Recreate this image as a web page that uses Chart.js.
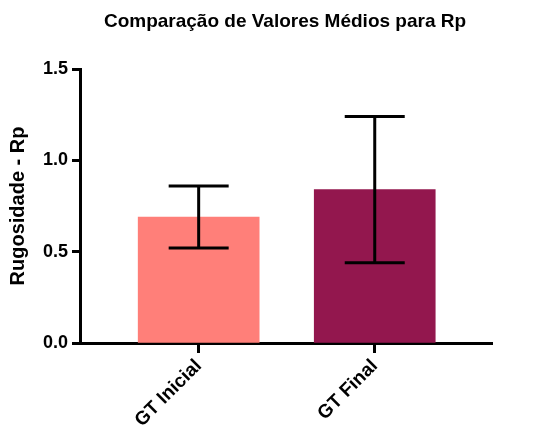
<!DOCTYPE html>
<html>
<head>
<meta charset="utf-8">
<script src="https://cdn.jsdelivr.net/npm/chart.js@4/dist/chart.umd.min.js"></script>
<style>
  html, body { margin: 0; padding: 0; background: #fff; }
  #wrap { width: 544px; height: 430px; position: relative; }
</style>
</head>
<body>
<div id="wrap"><canvas id="c" width="544" height="430"></canvas></div>
<script>
// Grupos comparados e valores médios de Rp (com desvio padrão)
const categories = ['GT Inicial', 'GT Final'];
const means = [0.69, 0.84];
const deviations = [0.17, 0.40];
const yTicks = [0.0, 0.5, 1.0, 1.5];
const barColors = ['#FF7F79', '#93174E'];
const chartTitle = 'Comparação de Valores Médios para Rp';

const FONT = '"Liberation Sans", Arial, Helvetica, sans-serif';

// Título centrado sobre a área do gráfico
const titleText = {
  id: 'titleText',
  afterDraw(chart) {
    const { ctx } = chart;
    ctx.save();
    ctx.fillStyle = '#000';
    ctx.font = 'bold 19px ' + FONT;
    ctx.textAlign = 'center';
    ctx.textBaseline = 'middle';
    ctx.fillText(chartTitle, 285, 22);
    ctx.restore();
  }
};

// Barras de erro (média ± DP) desenhadas com as escalas do gráfico
const errorBars = {
  id: 'errorBars',
  afterDatasetsDraw(chart) {
    const { ctx, scales: { x, y } } = chart;
    ctx.save();
    ctx.strokeStyle = '#000';
    ctx.lineWidth = 3;
    ctx.lineCap = 'butt';
    const half = 30;
    means.forEach((m, i) => {
      const px = x.getPixelForValue(i);
      const top = y.getPixelForValue(m + deviations[i]);
      const bot = y.getPixelForValue(m - deviations[i]);
      ctx.beginPath();
      ctx.moveTo(px, top); ctx.lineTo(px, bot);
      ctx.moveTo(px - half, top); ctx.lineTo(px + half, top);
      ctx.moveTo(px - half, bot); ctx.lineTo(px + half, bot);
      ctx.stroke();
    });
    ctx.restore();
  }
};

new Chart(document.getElementById('c'), {
  type: 'bar',
  data: {
    datasets: [{
      data: means.map((v, i) => ({ x: i, y: v })),
      backgroundColor: barColors,
      borderWidth: 0,
      barThickness: 121
    }]
  },
  options: {
    responsive: false,
    animation: false,
    layout: { padding: { left: 0, right: 52, top: 69, bottom: 0 } },
    plugins: {
      legend: { display: false },
      tooltip: { enabled: false },
      title: { display: false }
    },
    scales: {
      x: {
        type: 'linear',
        offset: false,
        min: -0.674,
        max: 1.666,
        z: 1,
        afterBuildTicks(scale) {
          scale.ticks = categories.map((_, i) => ({ value: i }));
        },
        afterFit(scale) { scale.height = 87; },
        ticks: {
          autoSkip: false,
          minRotation: 45,
          maxRotation: 45,
          padding: 2,
          color: '#000',
          font: { family: FONT, size: 19, weight: 'bold' },
          callback: (v) => categories[v] ?? ''
        },
        grid: {
          offset: false,
          drawOnChartArea: false,
          drawTicks: true,
          tickLength: 10,
          tickWidth: 3,
          tickColor: '#000'
        },
        border: { display: true, color: '#000', width: 3 }
      },
      y: {
        min: 0,
        max: 1.5,
        z: 1,
        afterBuildTicks(scale) {
          scale.ticks = yTicks.map(v => ({ value: v }));
        },
        afterFit(scale) { scale.width = 80; },
        ticks: {
          padding: 4,
          color: '#000',
          font: { family: FONT, size: 18, weight: 'bold' },
          callback: (v) => Number(v).toFixed(1)
        },
        grid: {
          drawOnChartArea: false,
          drawTicks: true,
          tickLength: 8,
          tickWidth: 3,
          tickColor: '#000'
        },
        border: { display: true, color: '#000', width: 3 },
        title: {
          display: true,
          text: 'Rugosidade - Rp',
          color: '#000',
          font: { family: FONT, size: 20, weight: 'bold' },
          padding: { top: 6, bottom: 0 }
        }
      }
    }
  },
  plugins: [errorBars, titleText]
});
</script>
</body>
</html>
